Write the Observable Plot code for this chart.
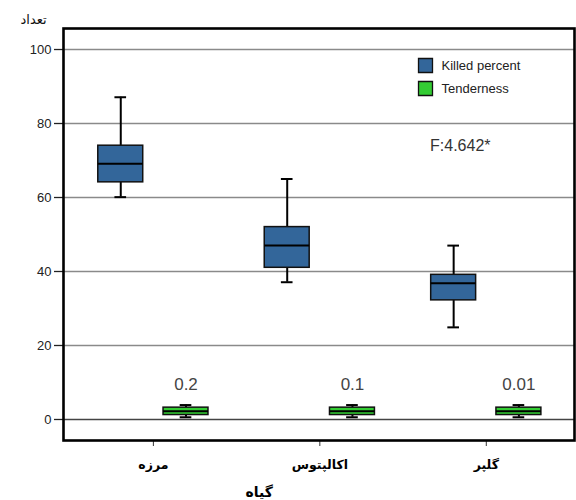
<!DOCTYPE html>
<html>
<head>
<meta charset="utf-8">
<script src="https://cdn.jsdelivr.net/npm/d3@7"></script>
<script src="https://cdn.jsdelivr.net/npm/@observablehq/plot@0.6"></script>
<style>
  html, body { margin: 0; padding: 0; background: #fff; }
  #chart svg { display: block; }
</style>
</head>
<body>
<div id="chart"></div>
<script>
// ---- data ----
const categories = ["مرزه", "اکالپتوس", "گلپر"];
const seriesNames = ["Killed percent", "Tenderness"];
const seriesColors = ["#33669a", "#33cc33"];

const killedMin    = [60.1, 37.1, 24.9];
const killedQ1     = [64.1, 41.0, 32.2];
const killedMedian = [69.1, 47.0, 36.8];
const killedQ3     = [74.0, 52.0, 39.1];
const killedMax    = [87.1, 65.0, 47.0];

const tenderMin    = [0.6, 0.6, 0.6];
const tenderQ1     = [1.2, 1.2, 1.2];
const tenderMedian = [2.2, 2.2, 2.2];
const tenderQ3     = [3.2, 3.2, 3.2];
const tenderMax    = [3.9, 3.9, 3.9];
const tenderLabels = ["0.2", "0.1", "0.01"];

const yTicks = [0, 20, 40, 60, 80, 100];
const xTitle = "گیاه";
const yTitle = "تعداد";
const fNote = "F:4.642*";

// ---- build table ----
const offset = 0.196, half = 0.135, cap = 0.035;
const boxes = [];
categories.forEach((c, i) => {
  boxes.push({cat: c, series: seriesNames[0], cx: i + 0.5 - offset,
    min: killedMin[i], q1: killedQ1[i], med: killedMedian[i], q3: killedQ3[i], max: killedMax[i]});
  boxes.push({cat: c, series: seriesNames[1], cx: i + 0.5 + offset,
    min: tenderMin[i], q1: tenderQ1[i], med: tenderMedian[i], q3: tenderQ3[i], max: tenderMax[i], label: tenderLabels[i]});
});
const colorOf = s => seriesColors[seriesNames.indexOf(s)];

const legendMarks = seriesNames.flatMap((s, i) => [
  Plot.dot([s], {frameAnchor: "top-right", dx: -149, dy: 37 + i * 23, symbol: "square", r: 7.9,
    fill: seriesColors[i], stroke: "#111", strokeWidth: 1.3}),
  Plot.text([s], {frameAnchor: "top-right", dx: -133, dy: 37 + i * 23, text: d => d, textAnchor: "start",
    lineAnchor: "middle", fontSize: 13, fill: "#222"})
]);

const chart = Plot.plot({
  width: 576,
  height: 500,
  marginTop: 28,
  marginLeft: 63,
  marginRight: 2,
  marginBottom: 60,
  style: {fontFamily: "'Liberation Sans', Arial, sans-serif", fontSize: "13px", color: "#222", background: "#fff"},
  x: {domain: [-0.04, 3.03], axis: null},
  y: {domain: [-5.68, 105.68], axis: null},
  marks: [
    // gridlines
    Plot.ruleY(yTicks, {stroke: d => d === 0 ? "#444" : "#8a8a8a", strokeWidth: 1.3}),
    // axes
    Plot.axisY(yTicks, {anchor: "left", tickSize: 9, tickPadding: 3, label: null, stroke: "#222", strokeWidth: 1.3, fontSize: 13, fill: "#222"}),
    Plot.axisX([0.5, 1.5, 2.5], {anchor: "bottom", tickSize: 6, tickPadding: 14, label: null,
      tickFormat: v => categories[Math.floor(v)], fontWeight: "bold", fontSize: 12.5,
      fontFamily: "'DejaVu Sans', sans-serif", fill: "#000", stroke: "#333"}),
    // whiskers
    Plot.ruleX(boxes, {x: "cx", y1: "min", y2: "q1", stroke: "#000", strokeWidth: 2}),
    Plot.ruleX(boxes, {x: "cx", y1: "q3", y2: "max", stroke: "#000", strokeWidth: 2}),
    Plot.ruleY(boxes, {y: "min", x1: d => d.cx - cap, x2: d => d.cx + cap, stroke: "#000", strokeWidth: 2}),
    Plot.ruleY(boxes, {y: "max", x1: d => d.cx - cap, x2: d => d.cx + cap, stroke: "#000", strokeWidth: 2}),
    // boxes
    Plot.rect(boxes, {x1: d => d.cx - half, x2: d => d.cx + half, y1: "q1", y2: "q3",
      fill: d => colorOf(d.series), stroke: "#111", strokeWidth: 1.5}),
    // medians
    Plot.ruleY(boxes, {y: "med", x1: d => d.cx - half, x2: d => d.cx + half, stroke: "#000", strokeWidth: 2}),
    // tenderness labels
    Plot.text(boxes.filter(d => d.label), {x: "cx", y: "max", text: "label", dy: -21, fontSize: 17, fill: "#444"}),
    // F statistic note
    Plot.text([fNote], {frameAnchor: "top-right", dx: -84, dy: 117, lineAnchor: "middle", fontSize: 16, fill: "#333"}),
    // legend
    ...legendMarks,
    // titles
    Plot.text([yTitle], {frameAnchor: "top-left", dx: -43, dy: -9, lineAnchor: "middle", fontSize: 13, fill: "#111",
      fontFamily: "'DejaVu Sans', sans-serif"}),
    Plot.text([xTitle], {frameAnchor: "bottom-left", dx: 182, dy: 52, lineAnchor: "middle", fontSize: 14, fontWeight: "bold", fill: "#000",
      fontFamily: "'DejaVu Sans', sans-serif"}),
    // frame
    Plot.frame({stroke: "#000", strokeWidth: 2.6})
  ]
});
document.getElementById("chart").appendChild(chart);
</script>
</body>
</html>
